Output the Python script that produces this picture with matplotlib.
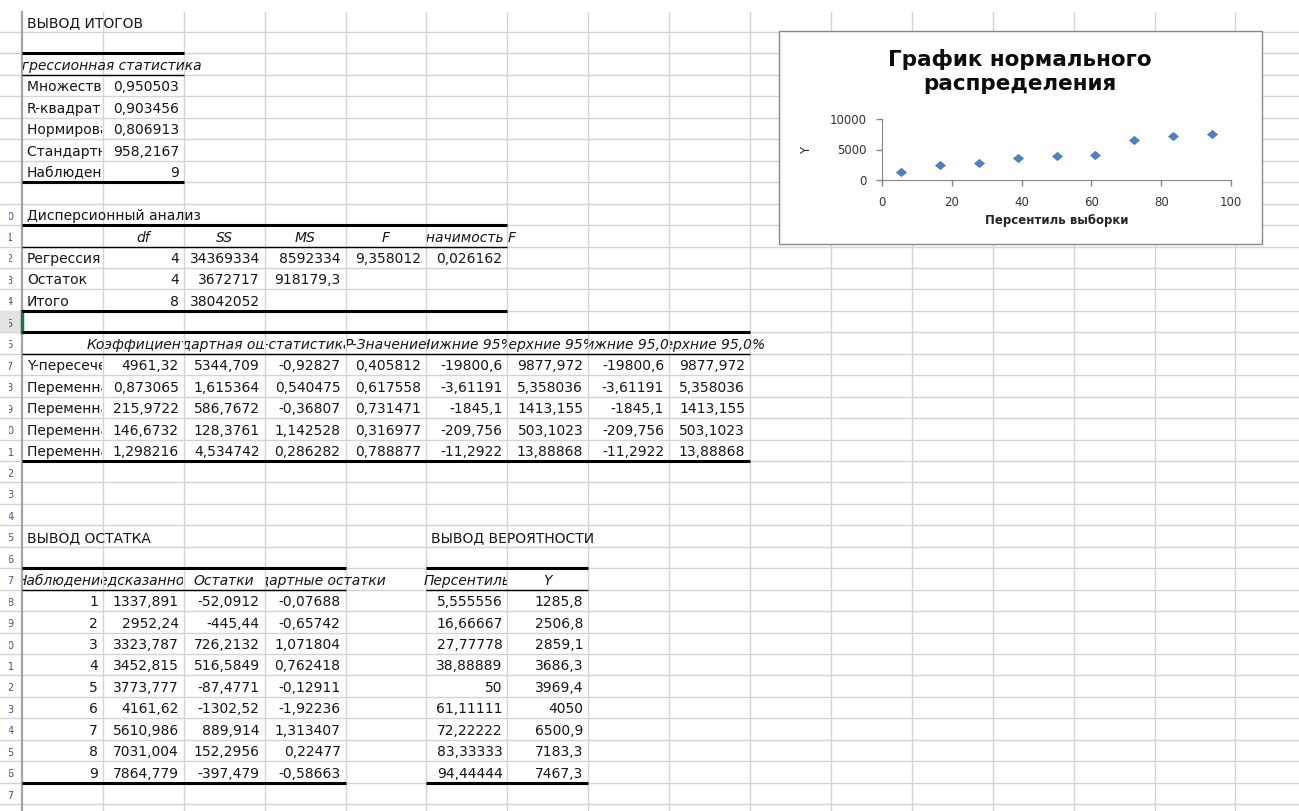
import matplotlib
matplotlib.use('Agg')
import matplotlib.pyplot as plt
from matplotlib.patches import Rectangle
from matplotlib.transforms import Bbox, TransformedBbox

plt.rcParams['font.family'] = ['DejaVu Sans']

# --- data read from the sheet ---
stat_labels = ['Множественный R', 'R-квадрат', 'Нормированный R-квадрат',
               'Стандартная ошибка', 'Наблюдения']
stat_values = ['0,950503', '0,903456', '0,806913', '958,2167', '9']

anova_head = ['df', 'SS', 'MS', 'F', 'Значимость F']
anova_rows = ['Регрессия', 'Остаток', 'Итого']
anova_vals = [['4', '34369334', '8592334', '9,358012', '0,026162'],
              ['4', '3672717', '918179,3', '', ''],
              ['8', '38042052', '', '', '']]

coef_head = ['Коэффициенты', 'Стандартная ошибка', 't-статистика', 'P-Значение',
             'Нижние 95%', 'Верхние 95%', 'Нижние 95,0%', 'Верхние 95,0%']
coef_rows = ['Y-пересечение', 'Переменная X 1', 'Переменная X 2',
             'Переменная X 3', 'Переменная X 4']
coef_vals = [['4961,32', '5344,709', '-0,92827', '0,405812', '-19800,6', '9877,972', '-19800,6', '9877,972'],
             ['0,873065', '1,615364', '0,540475', '0,617558', '-3,61191', '5,358036', '-3,61191', '5,358036'],
             ['215,9722', '586,7672', '-0,36807', '0,731471', '-1845,1', '1413,155', '-1845,1', '1413,155'],
             ['146,6732', '128,3761', '1,142528', '0,316977', '-209,756', '503,1023', '-209,756', '503,1023'],
             ['1,298216', '4,534742', '0,286282', '0,788877', '-11,2922', '13,88868', '-11,2922', '13,88868']]

resid_head = ['Наблюдение', 'Предсказанное Y', 'Остатки', 'Стандартные остатки']
obs_num = ['1', '2', '3', '4', '5', '6', '7', '8', '9']
predicted = ['1337,891', '2952,24', '3323,787', '3452,815', '3773,777',
             '4161,62', '5610,986', '7031,004', '7864,779']
residuals = ['-52,0912', '-445,44', '726,2132', '516,5849', '-87,4771',
             '-1302,52', '889,914', '152,2956', '-397,479']
std_resid = ['-0,07688', '-0,65742', '1,071804', '0,762418', '-0,12911',
             '-1,92236', '1,313407', '0,22477', '-0,58663']

prob_head = ['Персентиль', 'Y']
percentile = ['5,555556', '16,66667', '27,77778', '38,88889', '50',
              '61,11111', '72,22222', '83,33333', '94,44444']
y_sorted = ['1285,8', '2506,8', '2859,1', '3686,3', '3969,4',
            '4050', '6500,9', '7183,3', '7467,3']

chart_title = 'График нормального\nраспределения'
chart_xlabel = 'Персентиль выборки'
chart_ylabel = 'Y'

# --- sheet geometry (pixels) ---
W, H = 1299, 811
COL_X0, COL_W, N_COLS = 22.0, 80.9, 16
ROW_Y0, ROW_H = 10.55, 21.45
GRID = '#d4d4d4'
INK = '#161616'


def col_x(c):
    return COL_X0 + COL_W * c


def row_y(r):
    return ROW_Y0 + ROW_H * (r - 1)


cells = {}


def put(row, col, text, align='left', italic=False, span=1):
    cells[(row, col)] = (text, align, italic, span)


put(1, 0, 'ВЫВОД ИТОГОВ')
put(3, 0, 'Регрессионная статистика', 'center', True, span=2)
for i, (lab, val) in enumerate(zip(stat_labels, stat_values)):
    put(4 + i, 0, lab)
    put(4 + i, 1, val, 'right')

put(10, 0, 'Дисперсионный анализ')
for j, h in enumerate(anova_head):
    put(11, 1 + j, h, 'center', True)
for i, lab in enumerate(anova_rows):
    put(12 + i, 0, lab)
    for j, v in enumerate(anova_vals[i]):
        if v:
            put(12 + i, 1 + j, v, 'right')

for j, h in enumerate(coef_head):
    put(16, 1 + j, h, 'center', True)
for i, lab in enumerate(coef_rows):
    put(17 + i, 0, lab)
    for j, v in enumerate(coef_vals[i]):
        put(17 + i, 1 + j, v, 'right')

put(25, 0, 'ВЫВОД ОСТАТКА')
put(25, 5, 'ВЫВОД ВЕРОЯТНОСТИ')
for j, h in enumerate(resid_head):
    put(27, j, h, 'center', True)
for j, h in enumerate(prob_head):
    put(27, 5 + j, h, 'center', True)
for i in range(len(obs_num)):
    for j, col in enumerate([obs_num, predicted, residuals, std_resid]):
        put(28 + i, j, col[i], 'right')
    put(28 + i, 5, percentile[i], 'right')
    put(28 + i, 6, y_sorted[i], 'right')

# table borders: (row whose bottom edge, first col, last col, width)
borders = [(2, 0, 1, 2.2), (3, 0, 1, 1), (8, 0, 1, 2.2),
           (10, 0, 5, 2.2), (11, 0, 5, 1), (14, 0, 5, 2.2),
           (15, 0, 8, 2.2), (16, 0, 8, 1), (21, 0, 8, 2.2),
           (26, 0, 3, 2.2), (27, 0, 3, 1), (36, 0, 3, 2.2),
           (26, 5, 6, 2.2), (27, 5, 6, 1), (36, 5, 6, 2.2)]

fig = plt.figure(figsize=(W / 100, H / 100), dpi=100)
ax = fig.add_axes([0, 0, 1, 1])
ax.set_xlim(0, W)
ax.set_ylim(H, 0)
ax.axis('off')


def clip_to(t, x0, y0, x1, y1):
    t.set_clip_on(True)
    t.set_clip_box(TransformedBbox(Bbox([[x0, y0], [x1, y1]]), ax.transData))


# gridlines
for r in range(2, 40):
    ax.plot([0, W], [row_y(r), row_y(r)], color=GRID, lw=1, zorder=1)
for c in range(1, N_COLS + 1):
    ax.plot([col_x(c), col_x(c)], [12, H], color=GRID, lw=1, zorder=1)
ax.plot([COL_X0, COL_X0], [12, H], color='#a6a6a6', lw=1.6, zorder=2)

# row headers (cut off at the left edge of the screenshot)
ax.add_patch(Rectangle((0, row_y(15)), COL_X0 - 1, ROW_H, fc='#e3e3e3', ec='none', zorder=1.5))
ax.plot([COL_X0, COL_X0], [row_y(15), row_y(16)], color='#217346', lw=2.5, zorder=2.5)
for r in range(10, 38):
    t = ax.text(14.5, row_y(r + 1) - 5.5, str(r), ha='right', va='baseline', fontsize=7.5,
                color='#217346' if r == 15 else '#3f5b86', zorder=3)
    clip_to(t, 9.5, row_y(r), 20, row_y(r + 1))

for r, c0, c1, lw in borders:
    ax.plot([col_x(c0), col_x(c1 + 1)], [row_y(r + 1), row_y(r + 1)], color='black', lw=lw,
            solid_capstyle='butt', zorder=3)

# cell texts, clipped like Excel does (spill only into empty neighbours)
for (row, col), (text, align, italic, span) in cells.items():
    left, right = col, col + span - 1
    if align in ('center', 'right'):
        while left > 0 and (row, left - 1) not in cells:
            left -= 1
    if align in ('center', 'left'):
        while right < N_COLS - 1 and (row, right + 1) not in cells:
            right += 1
    if align == 'left':
        x = col_x(col) + 5
    elif align == 'right':
        x = col_x(col + span) - 5
    else:
        x = (col_x(col) + col_x(col + span)) / 2
    t = ax.text(x, row_y(row + 1) - 5, text, ha=align, va='baseline', fontsize=10,
                style='italic' if italic else 'normal', color=INK, zorder=4)
    clip_to(t, col_x(left) + 1, row_y(row), col_x(right + 1) - 0.5, row_y(row + 1))

# embedded chart
ax.add_patch(Rectangle((779, 31), 483, 213, fc='white', ec='#898989', lw=1, zorder=6))
ax.text(1020, 72, chart_title, ha='center', va='center', fontsize=15.5, fontweight='bold',
        linespacing=1.25, color='#0d0d0d', zorder=7)

pct_vals = [float(s.replace(',', '.')) for s in percentile]
y_vals = [float(s.replace(',', '.')) for s in y_sorted]

ax2 = fig.add_axes([882 / W, 1 - 180 / H, 349 / W, 61 / H])
ax2.patch.set_alpha(0)
diamond = [(-1.2, 0), (0, 1), (1.2, 0), (0, -1), (-1.2, 0)]
ax2.plot(pct_vals, y_vals, ls='none', marker=diamond, ms=8, mew=0, color='#4f81bd', clip_on=False)
ax2.set_xlim(0, 100)
ax2.set_ylim(0, 10000)
ax2.set_xticks([0, 20, 40, 60, 80, 100])
ax2.set_yticks([0, 5000, 10000])
for side in ('top', 'right'):
    ax2.spines[side].set_visible(False)
for side in ('left', 'bottom'):
    ax2.spines[side].set_color('#868686')
ax2.tick_params(axis='both', direction='out', length=4.3, width=1, color='#868686',
                labelsize=8.5, labelcolor='#333333')
ax2.tick_params(axis='y', pad=6.5)
ax2.tick_params(axis='x', pad=7)
ax2.set_xlabel(chart_xlabel, fontsize=8.5, fontweight='bold', color='#262626')
ax2.xaxis.set_label_coords(0.5, -(214 - 180) / 61)
ax2.set_ylabel(chart_ylabel, fontsize=8.5, color='#262626')
ax2.yaxis.set_label_coords(-(882 - 813) / 349, 0.49)

fig.savefig('out.png', dpi=100)
